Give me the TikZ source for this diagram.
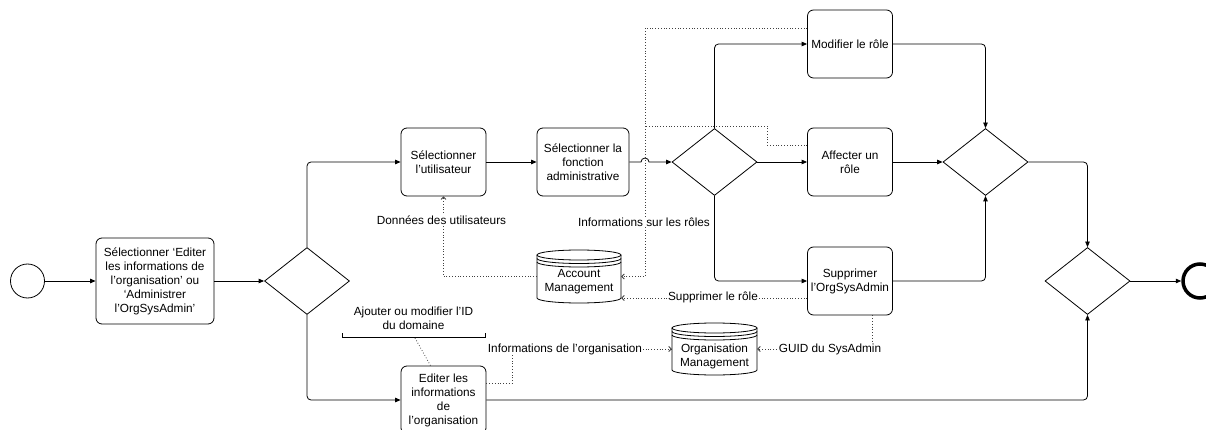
\documentclass[tikz,border=0pt]{standalone}
\usepackage{fontspec}
\setmainfont{Liberation Sans}
\usetikzlibrary{shapes.geometric,arrows.meta,calc}
\begin{document}
\begin{tikzpicture}[x=1pt,y=-1pt,
  every node/.style={font=\fontsize{11.8}{14}\selectfont},
  task/.style={draw, rounded corners=6pt, line width=0.8pt, align=center, inner sep=1pt, minimum width=85pt, minimum height=68pt},
  gate/.style={draw, diamond, aspect=1.27, minimum width=85pt, minimum height=67pt, inner sep=0pt, line width=0.8pt},
  seq/.style={draw, line width=0.8pt, rounded corners=4pt, -{Triangle[length=5.5pt,width=4.5pt]}},
  infoline/.style={draw=black!75, dotted, line width=0.8pt},
  info/.style={infoline, -{Straight Barb[length=2.5pt,width=5pt]}},
  lbl/.style={fill=white, inner sep=0.5pt},
  store/.style={line width=0.8pt},
]
\useasboundingbox (0,0) rectangle (1206,430);
\clip (0,0) rectangle (1206,430);

% events
\node[circle, draw, line width=0.8pt, minimum size=34pt, inner sep=0pt] (start) at (27.5,281) {};
\node[circle, draw, line width=3.5pt, minimum size=34pt, inner sep=0pt] (end) at (1200,281) {};

% tasks
\node[task, minimum width=118pt, minimum height=86pt] (b1) at (155,281)
  {Sélectionner ‘Editer\\les informations de\\l'organisation’ ou\\‘Administrer\\l'OrgSysAdmin’};
\node[task] (b2) at (443.5,162) {Sélectionner\\l'utilisateur};
\node[task, minimum width=92pt] (b3) at (583,162) {Sélectionner la\\fonction\\administrative};
\node[task] (mod) at (850,44) {Modifier le rôle};
\node[task] (aff) at (850,162) {Affecter un\\rôle};
\node[task] (sup) at (850,281) {Supprimer\\l'OrgSysAdmin};
\node[task] (edit) at (443.5,400) {Editer les\\informations\\de\\l'organisation};

% gateways
\node[gate] (d1) at (307,281) {};
\node[gate] (d2) at (714.5,162) {};
\node[gate] (d3) at (985.5,162) {};
\node[gate] (d4) at (1087.5,281) {};

% data stores
\node[minimum width=84pt, minimum height=53pt, inner sep=0pt] (acc) at (579,276.5) {};
\node[minimum width=85pt, minimum height=52pt, inner sep=0pt] (org) at (714.5,349) {};
\draw[store] (537,255) -- (537,298) arc[start angle=180,end angle=0,x radius=42,y radius=5] -- (621,255);
\draw[store] (579,255) ellipse[x radius=42,y radius=5];
\draw[store] (537,258.5) arc[start angle=180,end angle=0,x radius=42,y radius=5];
\draw[store] (537,262) arc[start angle=180,end angle=0,x radius=42,y radius=5];
\node[align=center] (acct) at (579,282) {Account\\Management};
\draw[store] (672,328) -- (672,370) arc[start angle=180,end angle=0,x radius=42.5,y radius=5] -- (757,328);
\draw[store] (714.5,328) ellipse[x radius=42.5,y radius=5];
\draw[store] (672,331.5) arc[start angle=180,end angle=0,x radius=42.5,y radius=5];
\draw[store] (672,335) arc[start angle=180,end angle=0,x radius=42.5,y radius=5];
\node[align=center] (orgt) at (714.5,356) {Organisation\\Management};

% sequence flows
\draw[seq] (start) -- (b1);
\draw[seq] (b1) -- (d1);
\draw[seq] (d1.north) |- (b2.west);
\draw[seq] (b2) -- (b3);
\draw[seq, sharp corners] (b3.east) -- (641,162) arc[start angle=180,end angle=360,radius=4] -- (d2.west);
\draw[seq] (d2.north) |- (mod.west);
\draw[seq] (d2) -- (aff);
\draw[seq] (d2.south) |- (sup.west);
\draw[seq] (mod.east) -| (d3.north);
\draw[seq] (aff) -- (d3);
\draw[seq] (sup.east) -| (d3.south);
\draw[seq] (d3.east) -| (d4.north);
\draw[seq] (d4) -- (end);
\draw[seq] (d1.south) |- (edit.west);
\draw[seq] (edit.east) -| (d4.south);

% data associations
\coordinate (jx) at (645,126);
\coordinate (m1) at ($(mod.west)+(0,-16)$);
\coordinate (a1) at ($(aff.west)+(0,-17)$);
\coordinate (s1) at ($(sup.west)+(0,17)$);
\coordinate (s2) at ($(sup.south)+(22,0)$);
\coordinate (e1) at ($(edit.east)+(0,-17)$);
\draw[info] (acc.west) -| (b2.south);
\draw[info] (m1) -| (jx) |- (acc.east);
\draw[infoline] (a1) -- ++(-40,0) |- (jx);
\draw[info] (s1) -- (s1 -| acc.east);
\draw[info] (s2) |- (org.east);
\draw[info] (e1) -- ++(26,0) |- (org.west);

\node[lbl] (l1) at (441.5,220) {Données des utilisateurs};
\node[lbl] (l2) at (644,222) {Informations sur les rôles};
\node[lbl] (l3) at (713,297) {Supprimer le rôle};
\node[lbl] (l4) at (830,349) {GUID du SysAdmin};
\node[lbl] (l5) at (565,349) {Informations de l'organisation};

% annotation
\node[align=center] (ann) at (413.5,318.5) {Ajouter ou modifier l'ID\\du domaine};
\draw[line width=0.8pt] (342,333) -- (342,337.5) -- (485,337.5) -- (485,333);
\coordinate (an1) at (415,338);
\coordinate (an2) at ($(edit.north)+(-13,0)$);
\draw[infoline] (an1) -- (an2);
\end{tikzpicture}
\end{document}
